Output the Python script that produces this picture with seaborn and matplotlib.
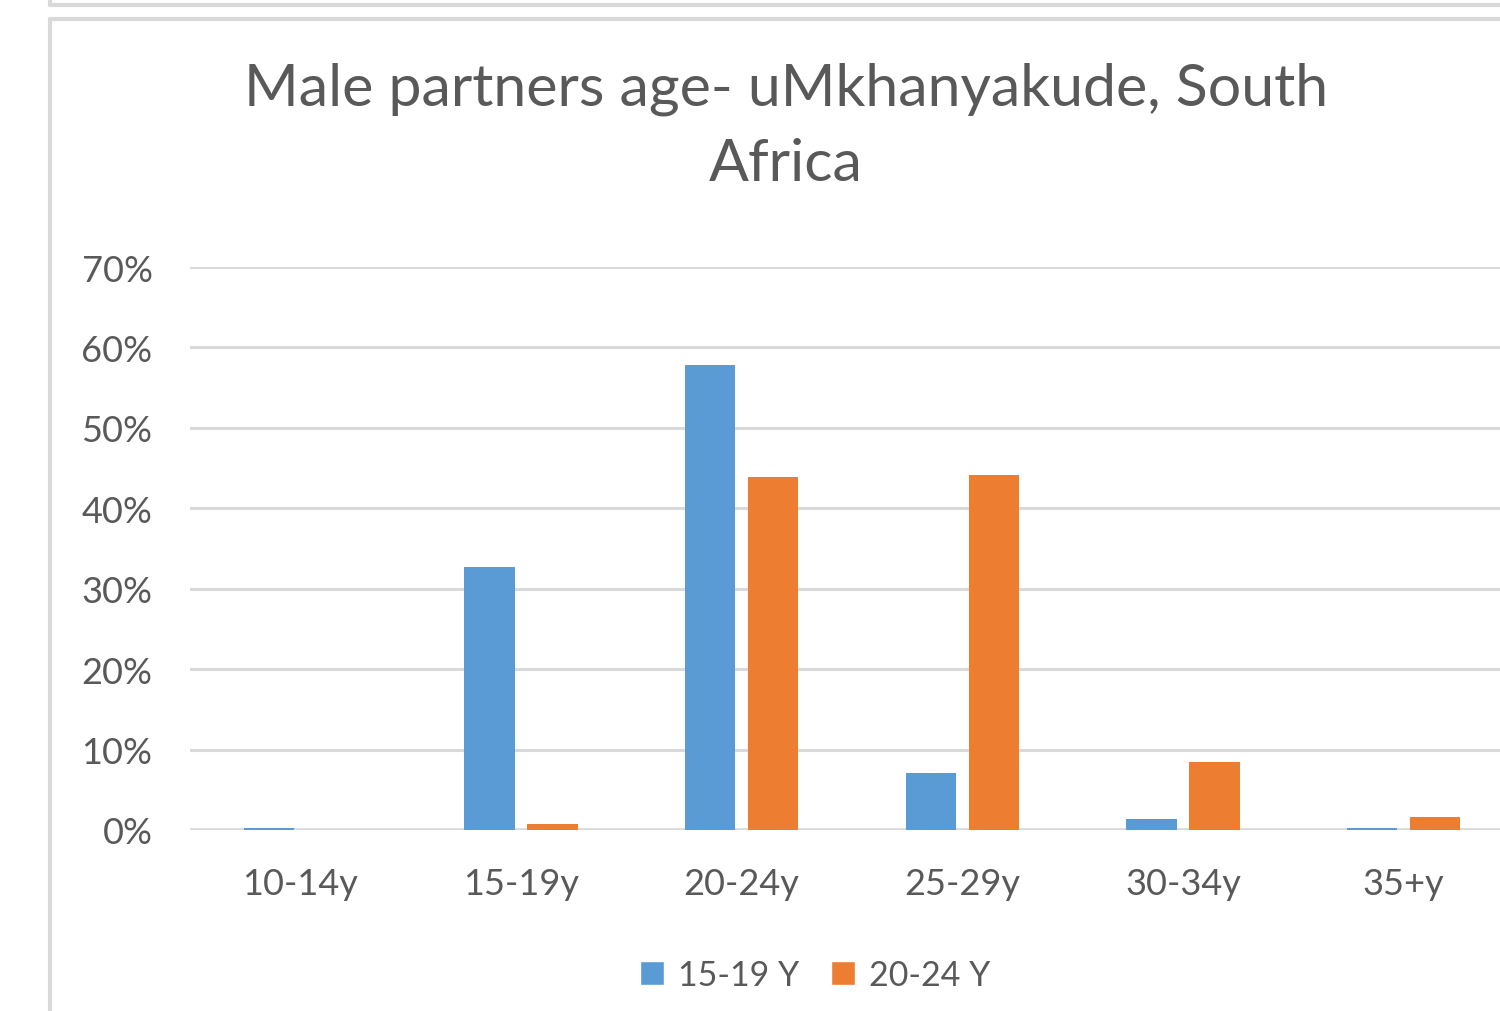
import pandas as pd
import seaborn as sns
import matplotlib.pyplot as plt
from matplotlib.lines import Line2D
from matplotlib.patches import Patch

# Male partners' age distribution by age group of the women

categories = ['10-14y', '15-19y', '20-24y', '25-29y', '30-34y', '35+y']
series_names = ['15-19 Y', '20-24 Y']
vals_1519 = [0.003, 0.327, 0.578, 0.071, 0.014, 0.003]
vals_2024 = [0.0, 0.008, 0.439, 0.442, 0.085, 0.016]
yticks = [0.0, 0.1, 0.2, 0.3, 0.4, 0.5, 0.6, 0.7]
title = 'Male partners age- uMkhanyakude, South\nAfrica'

df = pd.DataFrame({
    'age': categories * 2,
    'share': vals_1519 + vals_2024,
    'group': [series_names[0]] * len(categories) + [series_names[1]] * len(categories),
})

sns.set_theme(style='white')
plt.rcParams['font.family'] = ['Lato', 'DejaVu Sans']

blue = '#5B9BD5'
orange = '#ED7D31'
grid_c = '#D9D9D9'
text_c = '#595959'

fig = plt.figure(figsize=(15, 10.12), dpi=100)
ax = fig.add_axes([190 / 1500, 181 / 1012, 1324 / 1500, 563 / 1012])

sns.barplot(data=df, x='age', y='share', hue='group', order=categories,
            hue_order=series_names, palette=[blue, orange], width=0.572,
            gap=0.2, saturation=1, ax=ax, legend=False, edgecolor='none')

ax.set_xlim(-0.5, 5.5)
ax.set_ylim(0, 0.7)
ax.set_yticks(yticks)
ax.set_yticklabels([f'{int(round(t * 100))}%' for t in yticks])
ax.yaxis.grid(True, color=grid_c, linewidth=2.2)
ax.set_axisbelow(True)
for s in ax.spines.values():
    s.set_visible(False)
ax.axhline(0, color=grid_c, linewidth=2.6, zorder=0.5)
ax.tick_params(axis='both', length=0, labelsize=26, labelcolor=text_c)
ax.tick_params(axis='y', pad=27)
ax.tick_params(axis='x', pad=27)
ax.set_xlabel('')
ax.set_ylabel('')

fig.text(786 / 1500, 1 - 127 / 1012, title, ha='center', va='center',
         fontsize=42.5, color=text_c, linespacing=1.52)

handles = [Patch(facecolor=blue), Patch(facecolor=orange)]
fig.legend(handles, series_names, loc='center', bbox_to_anchor=(815 / 1500, 1 - 976 / 1012),
           ncol=2, frameon=False, fontsize=24.5, labelcolor=text_c,
           handlelength=0.7, handleheight=0.7, handletextpad=0.4, columnspacing=0.95)

# outer chart frames (Excel-style chart borders)
frame_kw = dict(color=grid_c, linewidth=3, transform=fig.transFigure)
fig.add_artist(Line2D([50 / 1500, 50 / 1500], [0, 1 - 20 / 1012], **frame_kw))
fig.add_artist(Line2D([50 / 1500, 1], [1 - 20 / 1012, 1 - 20 / 1012], **frame_kw))
fig.add_artist(Line2D([50 / 1500, 1], [1 - 6 / 1012, 1 - 6 / 1012], **frame_kw))
fig.add_artist(Line2D([50 / 1500, 50 / 1500], [1 - 6 / 1012, 1], **frame_kw))

fig.savefig('out.png', dpi=100)
